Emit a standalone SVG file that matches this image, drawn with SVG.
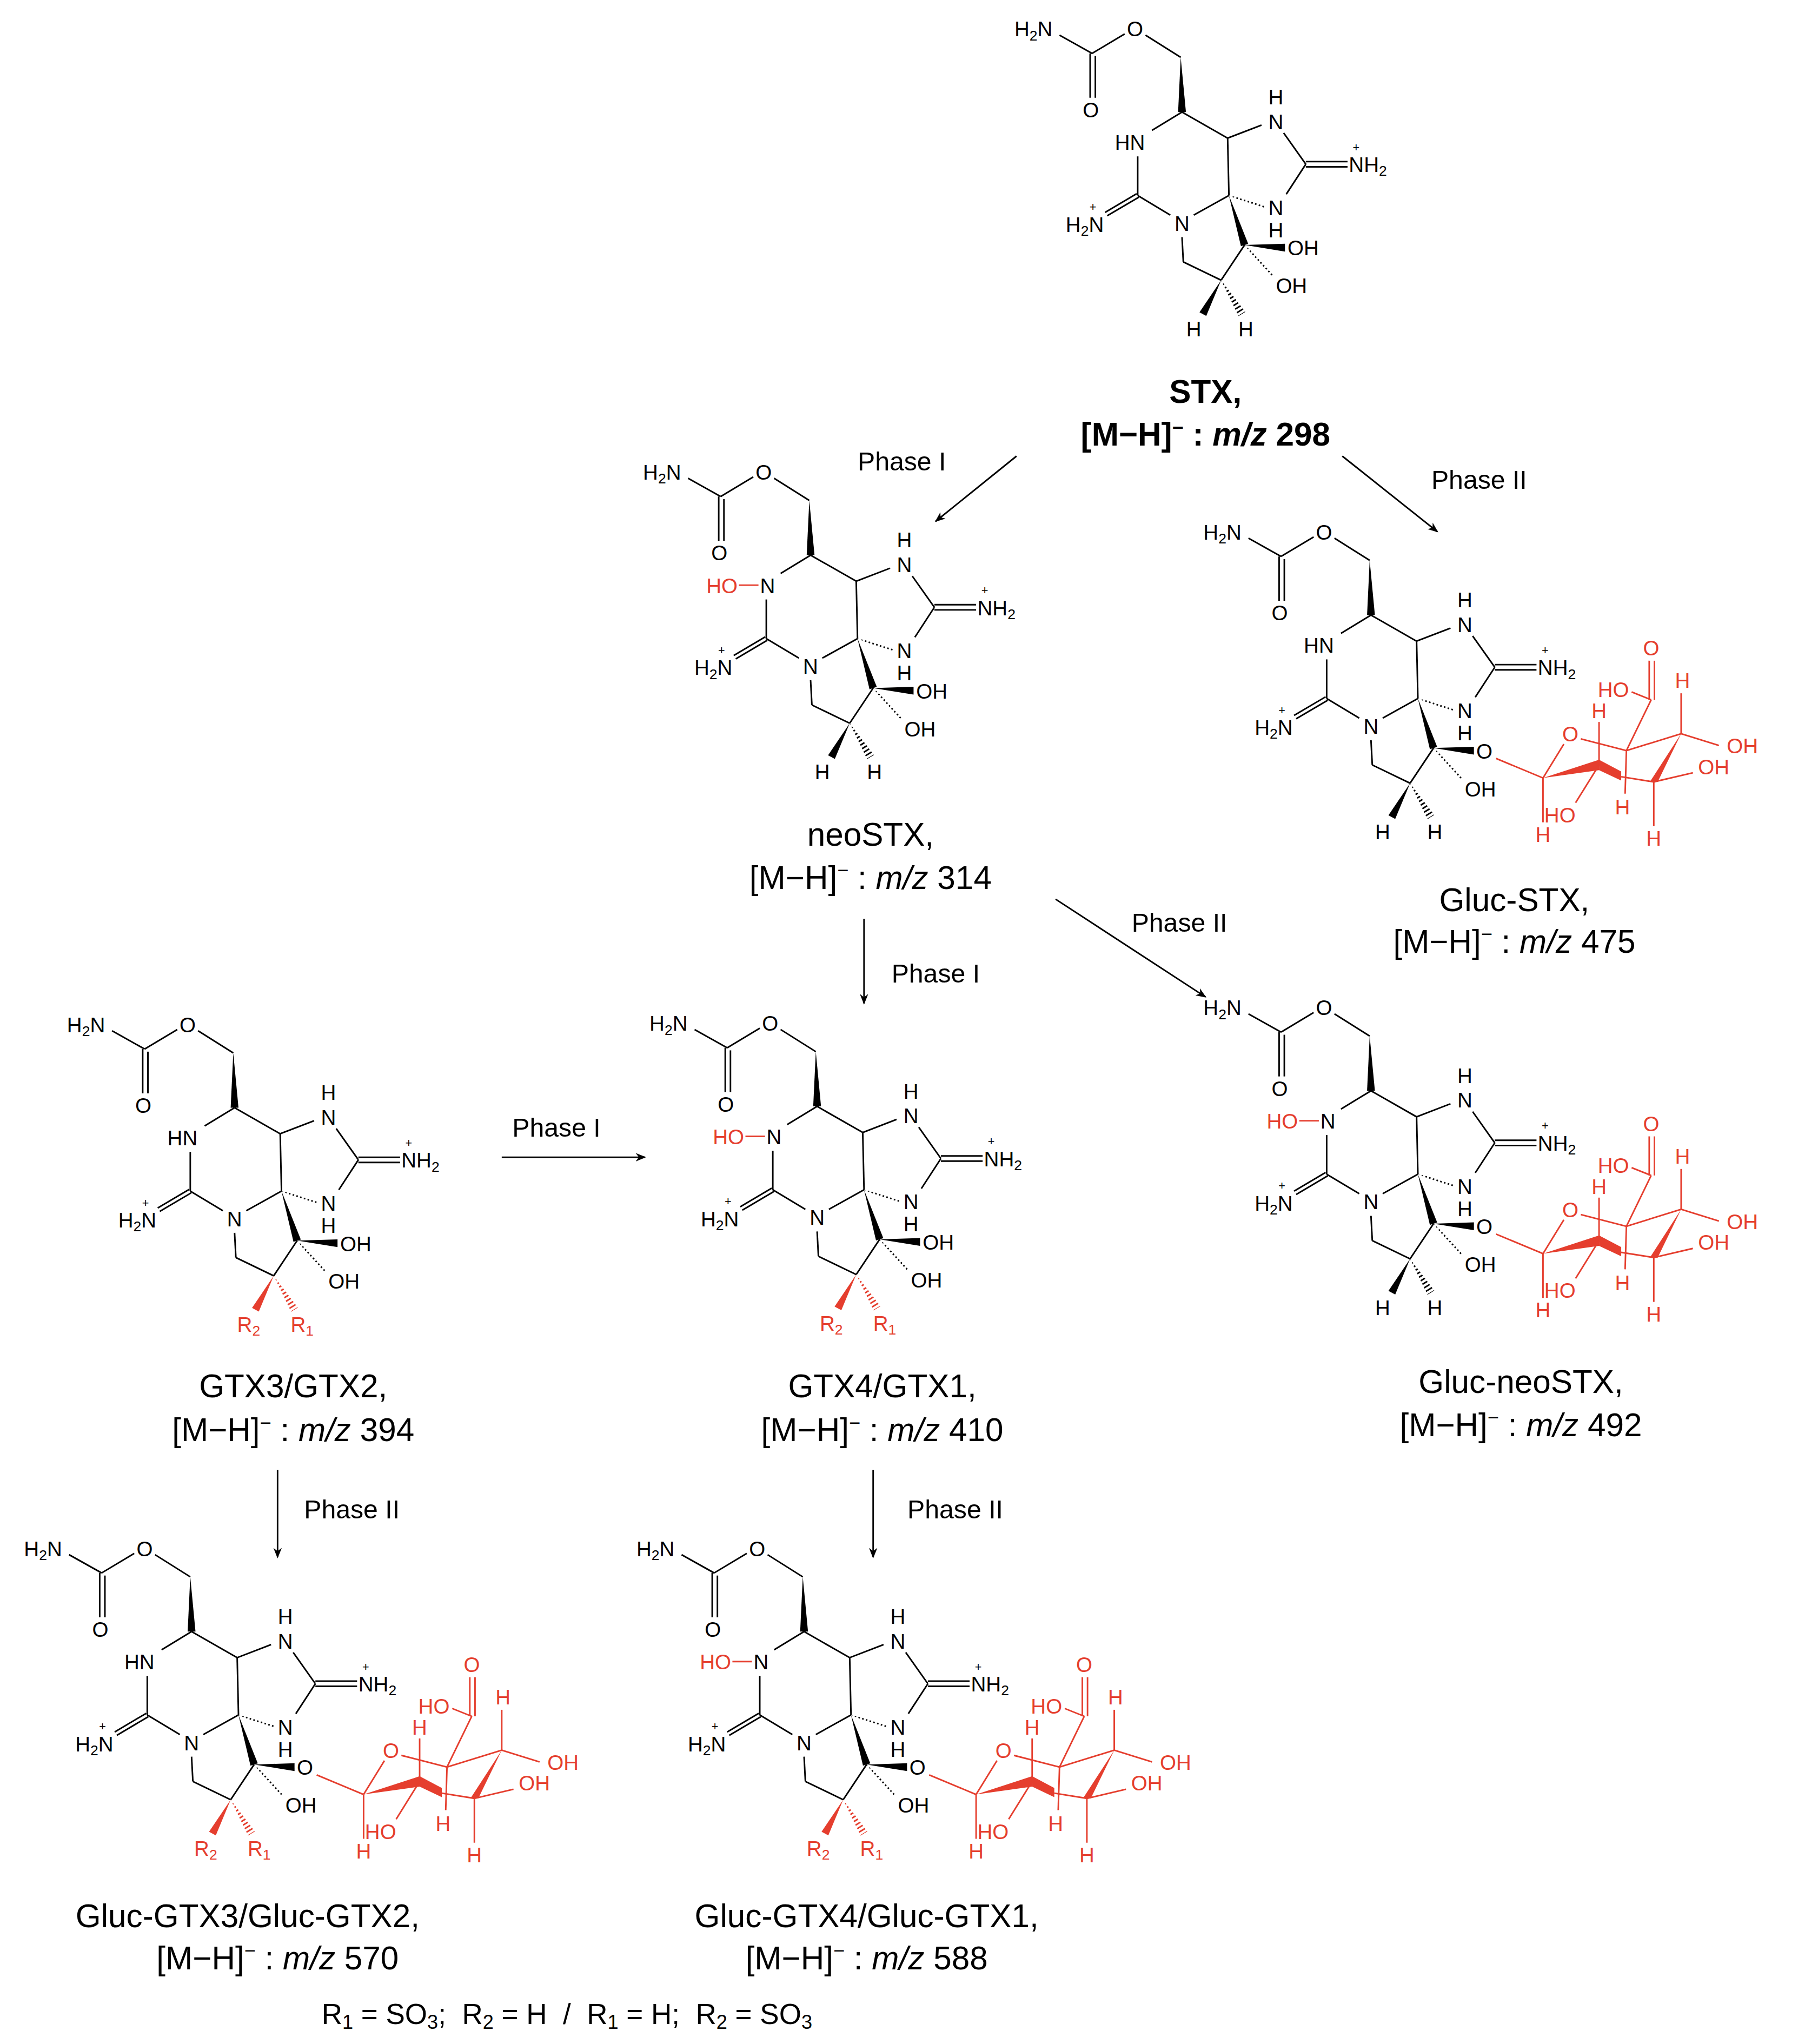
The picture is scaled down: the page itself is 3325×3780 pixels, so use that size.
<svg xmlns="http://www.w3.org/2000/svg" xmlns:xlink="http://www.w3.org/1999/xlink" width="3325" height="3780" viewBox="0 0 3325 3780">
<style>
text{font-family:"Liberation Sans",Arial,sans-serif}
.a{font-size:16px}
.s{font-size:11px}
.p{font-size:9px}
.r{fill:#e53e2e}
.b line,.b path{stroke:#000;stroke-width:1.2;fill:none}
.sg line{stroke:#e53e2e;stroke-width:1.2}
.lab{font-size:25px;text-anchor:middle}
.ph{font-size:20px;text-anchor:middle}
.arr{stroke:#000;stroke-width:1.2;marker-end:url(#ah)}
</style>
<defs>
<marker id="ah" viewBox="0 0 10 10" refX="9" refY="5" markerWidth="8" markerHeight="8" orient="auto" markerUnits="userSpaceOnUse"><path d="M0,1 L10,5 L0,9 L3,5 Z" fill="#000"/></marker>
<clipPath id="h1"><polygon points="943,150 970.1,161.9 971.9,156.1"/></clipPath>
<clipPath id="h2"><polygon points="955,188 974.8,214 979.2,210"/></clipPath>
<clipPath id="h3"><polygon points="937,215 950.4,242.6 955.6,239.4"/></clipPath>
<g id="core" class="b">
<line x1="813" y1="27" x2="838" y2="41"/>
<line x1="836.5" y1="41" x2="836.5" y2="75"/><line x1="840.5" y1="43" x2="840.5" y2="75"/>
<line x1="838" y1="41" x2="863" y2="26"/>
<line x1="879" y1="27" x2="906" y2="44"/>
<polygon points="906,44 904,86 910,86" fill="#000"/>
<line x1="907" y1="86" x2="884" y2="100"/>
<line x1="873" y1="120" x2="873" y2="150"/>
<line x1="907" y1="86" x2="942" y2="106"/>
<line x1="942" y1="106" x2="968" y2="96"/>
<line x1="985" y1="102" x2="1002" y2="126"/>
<line x1="1002" y1="124" x2="1034" y2="124"/><line x1="1002" y1="128" x2="1034" y2="128"/>
<line x1="1002" y1="126" x2="987" y2="149"/>
<line x1="942" y1="106" x2="943" y2="150"/>
<line x1="943" y1="150" x2="971" y2="159" stroke-width="7" stroke-dasharray="1.2 1.8" clip-path="url(#h1)"/>
<line x1="943" y1="150" x2="916" y2="165"/>
<line x1="873" y1="150" x2="898" y2="165"/>
<line x1="872.2" y1="148.7" x2="848" y2="163"/><line x1="873.8" y1="151.3" x2="849.6" y2="165.6"/>
<line x1="907" y1="182" x2="908" y2="201"/>
<line x1="908" y1="201" x2="937" y2="215"/>
<line x1="937" y1="215" x2="955" y2="188"/>
<polygon points="943,150 952.2,188.9 957.8,187.1" fill="#000"/>
<polygon points="955,188 986,193 986,187" fill="#000"/>
<line x1="955" y1="188" x2="977" y2="212" stroke-width="7" stroke-dasharray="1.2 1.8" clip-path="url(#h2)"/>
</g>
<g id="hh">
<polygon points="937,215 920.4,239.6 925.6,242.4" stroke="none"/>
<line x1="937" y1="215" x2="953" y2="241" stroke-width="7" stroke-dasharray="1.2 1.8" clip-path="url(#h3)" fill="none"/>
</g>
<g id="sugar" class="sg">
<line x1="9" y1="6" x2="45" y2="21"/>
<line x1="45" y1="21" x2="61" y2="-5"/>
<line x1="74" y1="-9" x2="109" y2="0"/>
<line x1="109" y1="0" x2="151" y2="-13"/>
<polygon points="151,-13 127,24 133,24" fill="#e53e2e"/>
<polygon points="45,21 88,7 88,15" fill="#e53e2e"/>
<polygon points="88,7 105,16 105,23 88,15" fill="#e53e2e"/>
<line x1="105" y1="20" x2="130" y2="24"/>
<line x1="109" y1="0" x2="128" y2="-39"/>
<line x1="126.5" y1="-39" x2="126.5" y2="-69"/><line x1="130.5" y1="-39" x2="130.5" y2="-69"/>
<line x1="128" y1="-39" x2="113" y2="-45"/>
<line x1="109" y1="0" x2="108" y2="33"/>
<line x1="88" y1="11" x2="88" y2="-22"/>
<line x1="88" y1="11" x2="70" y2="40"/>
<line x1="45" y1="21" x2="45" y2="55"/>
<line x1="151" y1="-13" x2="151" y2="-44"/>
<line x1="151" y1="-13" x2="180" y2="-4"/>
<line x1="130" y1="24" x2="160" y2="17"/>
<line x1="130" y1="24" x2="130" y2="58"/>
<g class="a r" text-anchor="middle">
<text x="66" y="-7">O</text>
<text x="128" y="-73">O</text>
<text x="99" y="-41">HO</text>
<text x="106" y="49">H</text>
<text x="88" y="-25">H</text>
<text x="58" y="55">HO</text>
<text x="45" y="70">H</text>
<text x="152" y="-48">H</text>
<text x="198" y="2">OH</text>
<text x="176" y="18">OH</text>
<text x="130" y="73">H</text>
</g>
</g>
</defs>
<rect width="3325" height="3780" fill="#fff"/>
<g transform="scale(2.41)">

<g id="STX">
<use href="#core"/><use href="#hh" fill="#000" stroke="#000"/>
<g class="a" text-anchor="middle">
<text x="793" y="28">H<tspan class="s" dy="3">2</tspan><tspan dy="-3">N</tspan></text>
<text x="837" y="90">O</text><text x="871" y="28">O</text>
<text x="867" y="115">HN</text>
<text x="979" y="80">H</text><text x="979" y="99">N</text>
<text x="979" y="165">N</text><text x="979" y="182">H</text>
<text x="907" y="177">N</text>
<text x="916" y="258">H</text><text x="956" y="258">H</text>
</g>
<text class="a" x="1035" y="132">NH<tspan class="s" dy="3">2</tspan></text><text class="p" x="1038" y="116">+</text>
<text class="a" x="847" y="178" text-anchor="end">H<tspan class="s" dy="3">2</tspan><tspan dy="-3">N</tspan></text><text class="p" x="836" y="162">+</text>
<text class="a" x="988" y="196">OH</text><text class="a" x="979" y="225">OH</text>
<text class="lab" x="925" y="309" font-weight="bold">STX,</text>
<text class="lab" x="925" y="342" font-weight="bold">[M−H]<tspan font-size="15" dy="-9">−</tspan><tspan dy="9"> : </tspan><tspan font-style="italic">m/z</tspan> 298</text>
</g>

<g id="neoSTX" transform="translate(-285,340)">
<use href="#core"/><use href="#hh" fill="#000" stroke="#000"/>
<g class="a" text-anchor="middle">
<text x="793" y="28">H<tspan class="s" dy="3">2</tspan><tspan dy="-3">N</tspan></text>
<text x="837" y="90">O</text><text x="871" y="28">O</text>
<text x="874" y="115">N</text>
<text x="979" y="80">H</text><text x="979" y="99">N</text>
<text x="979" y="165">N</text><text x="979" y="182">H</text>
<text x="907" y="177">N</text>
<text x="916" y="258">H</text><text x="956" y="258">H</text>
</g>
<text class="a r" x="851" y="115" text-anchor="end">HO</text><line x1="852" y1="109" x2="867" y2="109" stroke="#e53e2e" stroke-width="1.2"/>
<text class="a" x="1035" y="132">NH<tspan class="s" dy="3">2</tspan></text><text class="p" x="1038" y="116">+</text>
<text class="a" x="847" y="178" text-anchor="end">H<tspan class="s" dy="3">2</tspan><tspan dy="-3">N</tspan></text><text class="p" x="836" y="162">+</text>
<text class="a" x="988" y="196">OH</text><text class="a" x="979" y="225">OH</text>
</g>
<text class="lab" x="668" y="649">neoSTX,</text>
<text class="lab" x="668" y="682">[M−H]<tspan font-size="15" dy="-9">−</tspan><tspan dy="9"> : </tspan><tspan font-style="italic">m/z</tspan> 314</text>

<g id="GlucSTX" transform="translate(145,386)">
<use href="#core"/><use href="#hh" fill="#000" stroke="#000"/>
<g class="a" text-anchor="middle">
<text x="793" y="28">H<tspan class="s" dy="3">2</tspan><tspan dy="-3">N</tspan></text>
<text x="837" y="90">O</text><text x="871" y="28">O</text>
<text x="867" y="115">HN</text>
<text x="979" y="80">H</text><text x="979" y="99">N</text>
<text x="979" y="165">N</text><text x="979" y="182">H</text>
<text x="907" y="177">N</text>
<text x="916" y="258">H</text><text x="956" y="258">H</text>
<text x="994" y="196">O</text>
</g>
<text class="a" x="1035" y="132">NH<tspan class="s" dy="3">2</tspan></text><text class="p" x="1038" y="116">+</text>
<text class="a" x="847" y="178" text-anchor="end">H<tspan class="s" dy="3">2</tspan><tspan dy="-3">N</tspan></text><text class="p" x="836" y="162">+</text>
<text class="a" x="979" y="225">OH</text>
<use href="#sugar" transform="translate(994,190)"/>
</g>
<text class="lab" x="1162" y="699">Gluc-STX,</text>
<text class="lab" x="1162" y="731">[M−H]<tspan font-size="15" dy="-9">−</tspan><tspan dy="9"> : </tspan><tspan font-style="italic">m/z</tspan> 475</text>

<g id="GTX4" transform="translate(-280,763)">
<use href="#core"/><use href="#hh" fill="#e53e2e" stroke="#e53e2e"/>
<g class="a" text-anchor="middle">
<text x="793" y="28">H<tspan class="s" dy="3">2</tspan><tspan dy="-3">N</tspan></text>
<text x="837" y="90">O</text><text x="871" y="28">O</text>
<text x="874" y="115">N</text>
<text x="979" y="80">H</text><text x="979" y="99">N</text>
<text x="979" y="165">N</text><text x="979" y="182">H</text>
<text x="907" y="177">N</text>
</g>
<text class="a r" x="909" y="258">R<tspan class="s" dy="3">2</tspan></text><text class="a r" x="950" y="258">R<tspan class="s" dy="3">1</tspan></text>
<text class="a r" x="851" y="115" text-anchor="end">HO</text><line x1="852" y1="109" x2="867" y2="109" stroke="#e53e2e" stroke-width="1.2"/>
<text class="a" x="1035" y="132">NH<tspan class="s" dy="3">2</tspan></text><text class="p" x="1038" y="116">+</text>
<text class="a" x="847" y="178" text-anchor="end">H<tspan class="s" dy="3">2</tspan><tspan dy="-3">N</tspan></text><text class="p" x="836" y="162">+</text>
<text class="a" x="988" y="196">OH</text><text class="a" x="979" y="225">OH</text>
</g>
<text class="lab" x="677" y="1072">GTX4/GTX1,</text>
<text class="lab" x="677" y="1106">[M−H]<tspan font-size="15" dy="-9">−</tspan><tspan dy="9"> : </tspan><tspan font-style="italic">m/z</tspan> 410</text>

<g id="GlucNeoSTX" transform="translate(145,751)">
<use href="#core"/><use href="#hh" fill="#000" stroke="#000"/>
<g class="a" text-anchor="middle">
<text x="793" y="28">H<tspan class="s" dy="3">2</tspan><tspan dy="-3">N</tspan></text>
<text x="837" y="90">O</text><text x="871" y="28">O</text>
<text x="874" y="115">N</text>
<text x="979" y="80">H</text><text x="979" y="99">N</text>
<text x="979" y="165">N</text><text x="979" y="182">H</text>
<text x="907" y="177">N</text>
<text x="916" y="258">H</text><text x="956" y="258">H</text>
<text x="994" y="196">O</text>
</g>
<text class="a r" x="851" y="115" text-anchor="end">HO</text><line x1="852" y1="109" x2="867" y2="109" stroke="#e53e2e" stroke-width="1.2"/>
<text class="a" x="1035" y="132">NH<tspan class="s" dy="3">2</tspan></text><text class="p" x="1038" y="116">+</text>
<text class="a" x="847" y="178" text-anchor="end">H<tspan class="s" dy="3">2</tspan><tspan dy="-3">N</tspan></text><text class="p" x="836" y="162">+</text>
<text class="a" x="979" y="225">OH</text>
<use href="#sugar" transform="translate(994,190)"/>
</g>
<text class="lab" x="1167" y="1069">Gluc-neoSTX,</text>
<text class="lab" x="1167" y="1102">[M−H]<tspan font-size="15" dy="-9">−</tspan><tspan dy="9"> : </tspan><tspan font-style="italic">m/z</tspan> 492</text>

<g id="GTX3" transform="translate(-727,764)">
<use href="#core"/><use href="#hh" fill="#e53e2e" stroke="#e53e2e"/>
<g class="a" text-anchor="middle">
<text x="793" y="28">H<tspan class="s" dy="3">2</tspan><tspan dy="-3">N</tspan></text>
<text x="837" y="90">O</text><text x="871" y="28">O</text>
<text x="867" y="115">HN</text>
<text x="979" y="80">H</text><text x="979" y="99">N</text>
<text x="979" y="165">N</text><text x="979" y="182">H</text>
<text x="907" y="177">N</text>
</g>
<text class="a r" x="909" y="258">R<tspan class="s" dy="3">2</tspan></text><text class="a r" x="950" y="258">R<tspan class="s" dy="3">1</tspan></text>
<text class="a" x="1035" y="132">NH<tspan class="s" dy="3">2</tspan></text><text class="p" x="1038" y="116">+</text>
<text class="a" x="847" y="178" text-anchor="end">H<tspan class="s" dy="3">2</tspan><tspan dy="-3">N</tspan></text><text class="p" x="836" y="162">+</text>
<text class="a" x="988" y="196">OH</text><text class="a" x="979" y="225">OH</text>
</g>
<text class="lab" x="225" y="1072">GTX3/GTX2,</text>
<text class="lab" x="225" y="1106">[M−H]<tspan font-size="15" dy="-9">−</tspan><tspan dy="9"> : </tspan><tspan font-style="italic">m/z</tspan> 394</text>

<g id="GlucGTX3" transform="translate(-760,1166)">
<use href="#core"/><use href="#hh" fill="#e53e2e" stroke="#e53e2e"/>
<g class="a" text-anchor="middle">
<text x="793" y="28">H<tspan class="s" dy="3">2</tspan><tspan dy="-3">N</tspan></text>
<text x="837" y="90">O</text><text x="871" y="28">O</text>
<text x="867" y="115">HN</text>
<text x="979" y="80">H</text><text x="979" y="99">N</text>
<text x="979" y="165">N</text><text x="979" y="182">H</text>
<text x="907" y="177">N</text>
<text x="994" y="196">O</text>
</g>
<text class="a r" x="909" y="258">R<tspan class="s" dy="3">2</tspan></text><text class="a r" x="950" y="258">R<tspan class="s" dy="3">1</tspan></text>
<text class="a" x="1035" y="132">NH<tspan class="s" dy="3">2</tspan></text><text class="p" x="1038" y="116">+</text>
<text class="a" x="847" y="178" text-anchor="end">H<tspan class="s" dy="3">2</tspan><tspan dy="-3">N</tspan></text><text class="p" x="836" y="162">+</text>
<text class="a" x="979" y="225">OH</text>
<use href="#sugar" transform="translate(994,190)"/>
</g>
<text class="lab" x="190" y="1479">Gluc-GTX3/Gluc-GTX2,</text>
<text class="lab" x="213" y="1511">[M−H]<tspan font-size="15" dy="-9">−</tspan><tspan dy="9"> : </tspan><tspan font-style="italic">m/z</tspan> 570</text>

<g id="GlucGTX4" transform="translate(-290,1166)">
<use href="#core"/><use href="#hh" fill="#e53e2e" stroke="#e53e2e"/>
<g class="a" text-anchor="middle">
<text x="793" y="28">H<tspan class="s" dy="3">2</tspan><tspan dy="-3">N</tspan></text>
<text x="837" y="90">O</text><text x="871" y="28">O</text>
<text x="874" y="115">N</text>
<text x="979" y="80">H</text><text x="979" y="99">N</text>
<text x="979" y="165">N</text><text x="979" y="182">H</text>
<text x="907" y="177">N</text>
<text x="994" y="196">O</text>
</g>
<text class="a r" x="909" y="258">R<tspan class="s" dy="3">2</tspan></text><text class="a r" x="950" y="258">R<tspan class="s" dy="3">1</tspan></text>
<text class="a r" x="851" y="115" text-anchor="end">HO</text><line x1="852" y1="109" x2="867" y2="109" stroke="#e53e2e" stroke-width="1.2"/>
<text class="a" x="1035" y="132">NH<tspan class="s" dy="3">2</tspan></text><text class="p" x="1038" y="116">+</text>
<text class="a" x="847" y="178" text-anchor="end">H<tspan class="s" dy="3">2</tspan><tspan dy="-3">N</tspan></text><text class="p" x="836" y="162">+</text>
<text class="a" x="979" y="225">OH</text>
<use href="#sugar" transform="translate(994,190)"/>
</g>
<text class="lab" x="665" y="1479">Gluc-GTX4/Gluc-GTX1,</text>
<text class="lab" x="665" y="1511">[M−H]<tspan font-size="15" dy="-9">−</tspan><tspan dy="9"> : </tspan><tspan font-style="italic">m/z</tspan> 588</text>

<text x="435" y="1553" font-size="22" text-anchor="middle" xml:space="preserve">R<tspan font-size="15" dy="4">1</tspan><tspan dy="-4"> = SO</tspan><tspan font-size="15" dy="4">3</tspan><tspan dy="-4">;  R</tspan><tspan font-size="15" dy="4">2</tspan><tspan dy="-4"> = H  /  R</tspan><tspan font-size="15" dy="4">1</tspan><tspan dy="-4"> = H;  R</tspan><tspan font-size="15" dy="4">2</tspan><tspan dy="-4"> = SO</tspan><tspan font-size="15" dy="4">3</tspan></text>

<g id="connectors">
<line class="arr" x1="780" y1="350" x2="718" y2="400"/>
<line class="arr" x1="1030" y1="350" x2="1103" y2="408"/>
<line class="arr" x1="663" y1="705" x2="663" y2="770"/>
<line class="arr" x1="810" y1="690" x2="925" y2="765"/>
<line class="arr" x1="385" y1="888" x2="495" y2="888"/>
<line class="arr" x1="213" y1="1128" x2="213" y2="1195"/>
<line class="arr" x1="670" y1="1128" x2="670" y2="1195"/>
<text class="ph" x="692" y="361">Phase I</text>
<text class="ph" x="1135" y="375">Phase II</text>
<text class="ph" x="718" y="754">Phase I</text>
<text class="ph" x="905" y="715">Phase II</text>
<text class="ph" x="427" y="872">Phase I</text>
<text class="ph" x="270" y="1165">Phase II</text>
<text class="ph" x="733" y="1165">Phase II</text>
</g>
</g>
</svg>
